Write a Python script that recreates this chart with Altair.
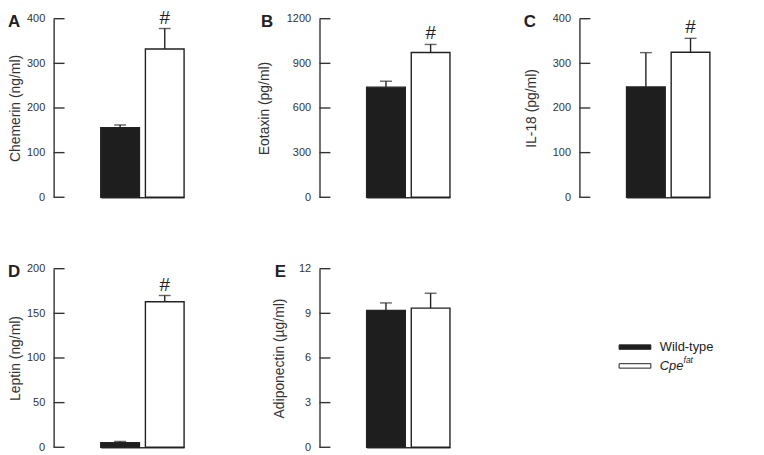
import altair as alt
import pandas as pd

FONT = "Liberation Sans"
INK = "#222222"
AXIS = "#333333"

# ---- data ----
groups = ["Wild-type", "Cpe"]
group_fill = ["#1e1e1e", "#ffffff"]

panel_letters = ["A", "B", "C", "D", "E"]
y_titles = ["Chemerin (ng/ml)", "Eotaxin (pg/ml)", "IL-18 (pg/ml)",
            "Leptin (ng/ml)", "Adiponectin (µg/ml)"]
y_max = [400, 1200, 400, 200, 12]
y_ticks = [
    [0, 100, 200, 300, 400],
    [0, 300, 600, 900, 1200],
    [0, 100, 200, 300, 400],
    [0, 50, 100, 150, 200],
    [0, 3, 6, 9, 12],
]

chemerin_mean = [156, 332]
chemerin_err = [6, 46]
eotaxin_mean = [740, 973]
eotaxin_err = [40, 54]
il18_mean = [247, 325]
il18_err = [77, 31]
leptin_mean = [5, 163]
leptin_err = [1.5, 7]
adiponectin_mean = [9.2, 9.35]
adiponectin_err = [0.5, 1.0]

significance = [["", "#"], ["", "#"], ["", "#"], ["", "#"], ["", ""]]

legend_labels = ["Wild-type", "Cpe"]
legend_sup = ["", "fat"]

# ---- layout (style) ----
panel_width = [182, 176, 178, 182, 176]
title_x = [-31, -48, -41, -31, -33]
letter_x = [-46, -59, -56, -46, -45]
PANEL_H = 180
BARS_START = 47.5
BARS_SPAN = 84  # two 39px bars + 6px gap


def panel(i, means, errs):
    df = pd.DataFrame({
        "group": groups,
        "mean": means,
        "upper": [m + e for m, e in zip(means, errs)],
        "sig": significance[i],
    })
    w = panel_width[i]
    p_in = 6.0 / 45.0
    xscale = alt.Scale(domain=groups, paddingInner=p_in, paddingOuter=0,
                       range=[BARS_START, BARS_START + BARS_SPAN])
    yscale = alt.Scale(domain=[0, y_max[i]], nice=False, zero=True)

    x_axis = alt.Axis(labels=False, ticks=False, title=None, grid=False,
                      domainColor=AXIS, domainWidth=1.4)
    y_axis = alt.Axis(values=y_ticks[i], format="d", title=y_titles[i],
                      ticks=False, tickSize=0, grid=False,
                      labelPadding=9, labelFontSize=11, labelFont=FONT,
                      labelColor=AXIS, titleFont=FONT, titleFontSize=14,
                      titleFontWeight="normal", titleColor=AXIS,
                      titleX=title_x[i], titleBaseline="bottom",
                      domainColor=AXIS, domainWidth=1.4)

    def X():
        return alt.X("group:N", scale=xscale, sort=groups, axis=x_axis)

    def Y(field):
        return alt.Y(field, scale=yscale, axis=y_axis)

    base = alt.Chart(df)
    bars = base.mark_bar(stroke=INK, strokeWidth=1.4).encode(
        x=X(),
        y=Y("mean:Q"),
        fill=alt.Fill("group:N", scale=alt.Scale(domain=groups, range=group_fill), legend=None),
    )
    whisker = base.mark_rule(color=INK, strokeWidth=1.4).encode(
        x=X(), y=Y("mean:Q"), y2="upper:Q",
    )
    cap = base.mark_tick(color=INK, thickness=1.4, size=12, orient="horizontal").encode(
        x=X(), y=Y("upper:Q"),
    )
    sig = base.mark_text(font=FONT, fontSize=19, dy=-5, baseline="alphabetic",
                         color=INK).encode(
        x=X(), y=Y("upper:Q"), text="sig:N",
    )
    ticks = alt.Chart(pd.DataFrame({"t": y_ticks[i]})).mark_rule(
        color=AXIS, strokeWidth=1.4).encode(
        y=Y("t:Q"), x=alt.value(0), x2=alt.value(11),
    )
    letter = alt.Chart(pd.DataFrame({"l": [panel_letters[i]]})).mark_text(
        font=FONT, fontSize=17, fontWeight="bold", align="left",
        baseline="alphabetic", color=INK).encode(
        text="l:N", x=alt.value(letter_x[i]), y=alt.value(8),
    )
    return alt.layer(bars, whisker, cap, sig, ticks, letter).properties(
        width=w, height=PANEL_H)


pA = panel(0, chemerin_mean, chemerin_err)
pB = panel(1, eotaxin_mean, eotaxin_err)
pC = panel(2, il18_mean, il18_err)
pD = panel(3, leptin_mean, leptin_err)
pE = panel(4, adiponectin_mean, adiponectin_err)

# ---- legend panel ----
leg = pd.DataFrame({"group": groups, "label": legend_labels, "sup": legend_sup})
yl = alt.Y("group:N", scale=alt.Scale(type="point", domain=groups, range=[79, 98],
                                      padding=0), axis=None)
lbase = alt.Chart(leg)
swatch = lbase.mark_point(shape="M-1,-0.14H1V0.14H-1Z", size=1024, filled=True,
                          opacity=1, stroke=INK, strokeWidth=1).encode(
    x=alt.value(56), y=yl,
    fill=alt.Fill("group:N", scale=alt.Scale(domain=groups, range=group_fill), legend=None),
)
wt_text = lbase.transform_filter(alt.datum.group == "Wild-type").mark_text(
    font=FONT, fontSize=13, align="left", baseline="middle", color=INK).encode(
    x=alt.value(81), y=yl, text="label:N")
cpe_text = lbase.transform_filter(alt.datum.group == "Cpe").mark_text(
    font=FONT, fontSize=13, fontStyle="italic", align="left", baseline="middle",
    color=INK).encode(x=alt.value(81), y=yl, text="label:N")
sup_text = lbase.transform_filter(alt.datum.group == "Cpe").mark_text(
    font=FONT, fontSize=8.5, fontStyle="italic", align="left", baseline="middle",
    dy=-6, color=INK).encode(x=alt.value(105), y=yl, text="sup:N")
legend_panel = alt.layer(swatch, wt_text, cpe_text, sup_text).properties(
    width=178, height=PANEL_H)

chart = alt.concat(
    pA, pB, pC, pD, pE, legend_panel,
    columns=3,
    spacing={"row": 72, "column": 86},
    bounds="flush",
    align="each",
).properties(
    padding={"left": 0, "top": -2, "right": 0, "bottom": 0}
).configure_view(stroke=None)

chart.save("out.html", embed_options={"renderer": "svg", "actions": False})
